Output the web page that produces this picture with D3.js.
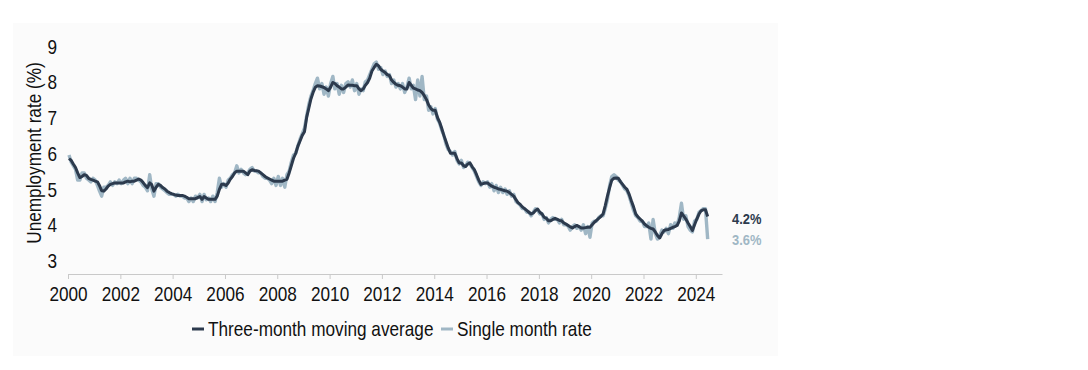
<!DOCTYPE html>
<html>
<head>
<meta charset="utf-8">
<script src="https://cdn.jsdelivr.net/npm/d3@7"></script>
<style>
  body { margin: 0; background: #fff; }
  svg text { font-family: 'Liberation Sans', Arial, sans-serif; }
</style>
</head>
<body>
<div id="chart-area"></div>
<script>
// monthly values, Jan 2000 - Jun 2024 (one row per year)
var threeMonthAvg = [
  5.85, 5.8, 5.7, 5.6, 5.45, 5.32, 5.35, 5.4, 5.38, 5.3, 5.27, 5.25,
  5.22, 5.2, 5.1, 4.95, 4.94, 5.0, 5.08, 5.13, 5.15, 5.17, 5.17, 5.17,
  5.17, 5.17, 5.2, 5.22, 5.2, 5.22, 5.22, 5.25, 5.28, 5.25, 5.18, 5.1,
  5.04, 5.17, 5.12, 4.94, 5.05, 5.13, 5.1, 5.04, 5.0, 4.94, 4.9, 4.87,
  4.85, 4.83, 4.82, 4.82, 4.82, 4.8, 4.77, 4.73, 4.73, 4.73, 4.73, 4.76,
  4.79, 4.71, 4.79, 4.75, 4.71, 4.71, 4.71, 4.71, 4.8, 4.99, 5.13, 5.13,
  5.1, 5.17, 5.27, 5.35, 5.45, 5.5, 5.5, 5.5, 5.5, 5.45, 5.4, 5.5,
  5.54, 5.52, 5.51, 5.5, 5.45, 5.4, 5.35, 5.31, 5.28, 5.25, 5.22, 5.22,
  5.22, 5.22, 5.22, 5.25, 5.27, 5.45, 5.65, 5.86, 6.0, 6.2, 6.35, 6.5,
  6.6, 7.01, 7.25, 7.52, 7.7, 7.84, 7.89, 7.88, 7.86, 7.84, 7.8, 7.75,
  7.85, 7.98, 7.95, 7.89, 7.85, 7.8, 7.8, 7.85, 7.91, 7.9, 7.9, 7.89,
  7.89, 7.8, 7.75, 7.8, 7.9, 7.98, 8.1, 8.3, 8.4, 8.49, 8.45, 8.35,
  8.3, 8.26, 8.2, 8.17, 8.05, 7.98, 7.93, 7.9, 7.89, 7.85, 7.8, 7.8,
  7.98, 7.9, 7.82, 7.8, 7.77, 7.75, 7.7, 7.61, 7.5, 7.35, 7.25, 7.2,
  7.2, 7.0, 6.88, 6.7, 6.5, 6.32, 6.15, 6.0, 6.0, 6.0, 5.85, 5.73,
  5.73, 5.65, 5.63, 5.7, 5.73, 5.62, 5.54, 5.4, 5.25, 5.13, 5.15, 5.17,
  5.17, 5.12, 5.08, 5.05, 5.03, 5.0, 4.99, 4.97, 4.95, 4.94, 4.9, 4.85,
  4.8, 4.7, 4.62, 4.57, 4.5, 4.45, 4.4, 4.35, 4.3, 4.33, 4.4, 4.44,
  4.35, 4.3, 4.21, 4.18, 4.11, 4.11, 4.15, 4.18, 4.15, 4.12, 4.11, 4.05,
  4.02, 3.98, 3.94, 3.91, 3.95, 3.98, 3.95, 3.91, 3.91, 3.92, 3.93, 3.93,
  4.0, 4.07, 4.12, 4.18, 4.23, 4.3, 4.53, 4.8, 5.04, 5.25, 5.3, 5.31,
  5.3, 5.2, 5.13, 5.05, 4.99, 4.85, 4.67, 4.5, 4.3, 4.22, 4.16, 4.1,
  4.02, 3.97, 3.93, 3.9, 3.88, 3.8, 3.7, 3.63, 3.75, 3.84, 3.86, 3.87,
  3.9, 3.93, 3.95, 3.98, 4.1, 4.33, 4.25, 4.16, 4.05, 3.95, 3.84, 4.0,
  4.16, 4.3, 4.39, 4.42, 4.42, 4.23
];

var singleMonth = [
  5.95, 5.75, 5.65, 5.55, 5.25, 5.25, 5.45, 5.45, 5.3, 5.25, 5.2, 5.3,
  5.25, 5.1, 4.95, 4.8, 5.05, 5.05, 5.1, 5.2, 5.1, 5.2, 5.15, 5.25,
  5.15, 5.25, 5.3, 5.15, 5.3, 5.15, 5.3, 5.3, 5.25, 5.2, 5.1, 5.05,
  4.95, 5.4, 5.0, 4.8, 5.15, 5.15, 5.05, 5.0, 4.95, 4.9, 4.85, 4.85,
  4.85, 4.8, 4.85, 4.8, 4.8, 4.75, 4.75, 4.65, 4.75, 4.65, 4.8, 4.75,
  4.85, 4.65, 4.85, 4.7, 4.75, 4.65, 4.8, 4.65, 4.9, 5.3, 5.05, 5.15,
  5.05, 5.25, 5.3, 5.4, 5.45, 5.65, 5.45, 5.55, 5.45, 5.4, 5.45, 5.55,
  5.6, 5.5, 5.5, 5.45, 5.45, 5.35, 5.3, 5.3, 5.25, 5.15, 5.3, 5.1,
  5.35, 5.1, 5.3, 5.05, 5.4, 5.5, 5.75, 5.95, 6.0, 6.2, 6.4, 6.55,
  6.7, 7.05, 7.35, 7.6, 7.75, 7.95, 8.1, 7.8, 7.95, 7.65, 7.85, 7.6,
  7.95, 8.15, 7.8, 7.95, 7.65, 7.9, 7.7, 7.95, 8.0, 7.85, 8.05, 7.75,
  7.95, 7.65, 7.8, 7.75, 8.0, 8.05, 8.2, 8.35, 8.5, 8.55, 8.35, 8.4,
  8.2, 8.3, 8.15, 8.2, 7.95, 8.05, 7.85, 7.95, 7.8, 7.95, 7.7, 7.85,
  8.1, 7.8, 7.9, 7.5, 8.05, 7.6, 8.15, 7.5, 7.6, 7.2, 7.3, 7.1,
  7.25, 6.95, 6.85, 6.65, 6.5, 6.25, 6.1, 6.05, 5.95, 6.05, 5.8, 5.7,
  5.8, 5.6, 5.65, 5.75, 5.7, 5.6, 5.5, 5.35, 5.2, 5.1, 5.2, 5.15,
  5.2, 5.05, 5.15, 4.95, 5.1, 4.9, 5.05, 4.9, 5.0, 4.85, 4.95, 4.8,
  4.85, 4.65, 4.6, 4.55, 4.45, 4.45, 4.35, 4.35, 4.25, 4.35, 4.45, 4.4,
  4.3, 4.3, 4.15, 4.2, 4.05, 4.15, 4.2, 4.15, 4.15, 4.05, 4.15, 4.0,
  4.0, 3.95, 3.85, 3.95, 4.0, 3.9, 3.95, 3.85, 4.0, 3.75, 3.95, 3.65,
  4.05, 4.1, 4.1, 4.2, 4.25, 4.25, 4.45, 4.7, 5.1, 5.35, 5.4, 5.35,
  5.25, 5.2, 5.1, 5.0, 4.95, 4.8, 4.6, 4.4, 4.25, 4.2, 4.1, 4.1,
  3.95, 3.95, 4.05, 3.6, 4.15, 3.75, 3.6, 3.7, 3.85, 3.8, 3.9, 3.75,
  4.0, 3.9, 4.05, 4.0, 4.2, 4.6, 4.15, 4.25, 3.95, 3.85, 3.8, 4.1,
  4.15, 4.35, 4.4, 4.45, 4.45, 3.6
];

var yTicks = [3, 4, 5, 6, 7, 8, 9];
var seriesNames = ['Three-month moving average', 'Single month rate'];
var seriesColors = ['#2c3a4d', '#a0b7c5'];

// the original uses a narrow face; squeeze Liberation Sans to match
var squeeze = 'scale(0.86,1)';

var svg = d3.select('#chart-area').append('svg')
    .attr('width', 1088)
    .attr('height', 370)

// faint panel behind the chart
svg.append('rect')
    .attr('x', 13)
    .attr('y', 23)
    .attr('width', 765)
    .attr('height', 333)
    .attr('fill', '#fbfbfb')

var x = d3.scaleTime()
    .domain([new Date(2000, 0, 1), new Date(2025, 0, 1)])
    .range([68, 722])

var y = d3.scaleLinear()
    .domain([3, 9])
    .range([260.5, 46])

var monthDate = (i) => new Date(2000, i, 15);

var line = d3.line()
    .x((d, i) => x(monthDate(i)))
    .y((d) => y(d))

// x axis
var xAxis = svg.append('g')
    .attr('transform', 'translate(0,274)')
    .call(d3.axisBottom(x)
        .ticks(d3.timeYear.every(2))
        .tickFormat(d3.timeFormat('%Y'))
        .tickSizeInner(5)
        .tickSizeOuter(0))
xAxis.select('.domain').attr('stroke', '#c9c9c9')
xAxis.selectAll('.tick line').attr('stroke', '#c9c9c9')
xAxis.selectAll('.tick text')
    .attr('dy', null)
    .attr('y', null)
    .attr('transform', 'translate(0,26.5) ' + squeeze)
    .style('font-size', '20px')
    .style('fill', '#111')

// y axis labels only
var yAxis = svg.append('g')
    .attr('transform', 'translate(57,0)')
    .call(d3.axisLeft(y).tickValues(yTicks).tickFormat(d3.format('d')).tickSize(0).tickPadding(0))
yAxis.select('.domain').remove()
yAxis.selectAll('.tick text')
    .attr('dy', null)
    .attr('x', null)
    .attr('transform', 'translate(0,7) ' + squeeze)
    .style('font-size', '20px')
    .style('fill', '#111')

svg.append('text')
    .attr('transform', 'translate(41,153) rotate(-90) ' + squeeze)
    .attr('text-anchor', 'middle')
    .style('font-size', '20px')
    .style('fill', '#111')
    .text('Unemployment rate (%)')

// series: light single-month underneath, average on top
svg.append('path')
    .datum(singleMonth)
    .attr('d', line)
    .attr('fill', 'none')
    .attr('stroke', seriesColors[1])
    .attr('stroke-width', 3.4)
    .attr('stroke-linejoin', 'round')

svg.append('path')
    .datum(threeMonthAvg)
    .attr('d', line)
    .attr('fill', 'none')
    .attr('stroke', seriesColors[0])
    .attr('stroke-width', 3)
    .attr('stroke-linejoin', 'round')

// end labels
var lastAvg = threeMonthAvg[threeMonthAvg.length - 1];
var lastSingle = singleMonth[singleMonth.length - 1];
var fmt = d3.format('.1f');

svg.append('text')
    .attr('transform', 'translate(732,' + (y(lastAvg) + 7) + ') ' + squeeze)
    .style('font-size', '15px')
    .style('font-weight', 'bold')
    .style('fill', seriesColors[0])
    .text(fmt(lastAvg) + '%')

svg.append('text')
    .attr('transform', 'translate(732,' + (y(lastSingle) + 6) + ') ' + squeeze)
    .style('font-size', '15px')
    .style('font-weight', 'bold')
    .style('fill', seriesColors[1])
    .text(fmt(lastSingle) + '%')

// legend
var legendX = [192, 441];
var legend = svg.selectAll('.legend')
    .data(seriesNames)
    .enter()
    .append('g')
    .attr('class', 'legend')
    .attr('transform', (d, i) => 'translate(' + legendX[i] + ',329)')

legend.append('line')
    .attr('x1', 0)
    .attr('x2', 12)
    .attr('stroke', (d, i) => seriesColors[i])
    .attr('stroke-width', 3)

legend.append('text')
    .attr('transform', 'translate(16,7) ' + squeeze)
    .style('font-size', '20px')
    .style('fill', '#111')
    .text((d) => d)
</script>
</body>
</html>
